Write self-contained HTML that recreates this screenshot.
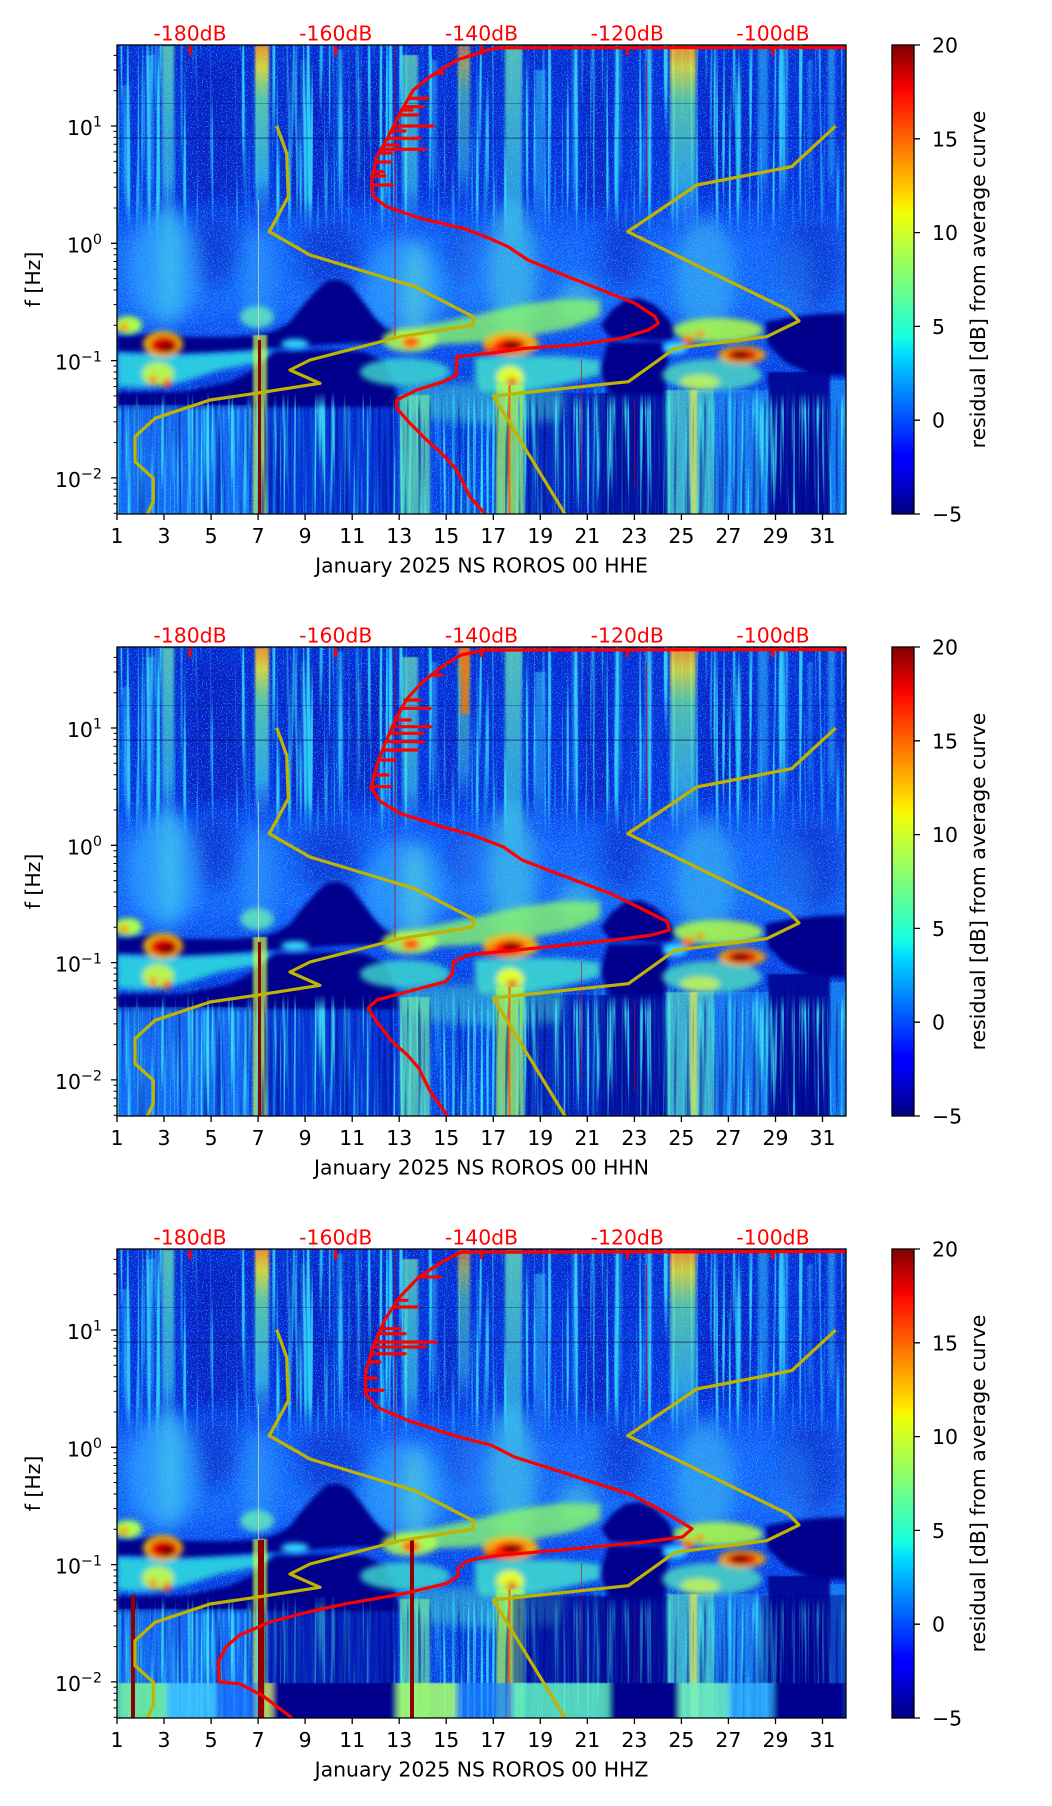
<!DOCTYPE html>
<html><head><meta charset="utf-8">
<style>
html,body{margin:0;padding:0;background:#fff;}
svg{display:block;}
text{font-family:"DejaVu Sans","Liberation Sans",sans-serif;font-size:20.4px;fill:#000;}
.rd{fill:#ff0000;}
</style></head><body>
<svg xmlns="http://www.w3.org/2000/svg" xmlns:xlink="http://www.w3.org/1999/xlink" width="1052" height="1806" viewBox="0 0 1052 1806">
<defs>
<clipPath id="cp" clipPathUnits="userSpaceOnUse"><rect x="117" y="45" width="729" height="469"/></clipPath>
<clipPath id="cp2" clipPathUnits="userSpaceOnUse"><rect x="117" y="647" width="729" height="469"/></clipPath>
<clipPath id="cp3" clipPathUnits="userSpaceOnUse"><rect x="117" y="1249" width="729" height="469"/></clipPath>

<linearGradient id="bg" gradientUnits="userSpaceOnUse" x1="0" y1="45" x2="0" y2="514">
 <stop offset="0" stop-color="#0a2bd6"/>
 <stop offset="0.32" stop-color="#0a34e2"/>
 <stop offset="0.37" stop-color="#1252f6"/>
 <stop offset="0.42" stop-color="#1a68ff"/>
 <stop offset="0.55" stop-color="#1a6cff"/>
 <stop offset="0.60" stop-color="#1458f8"/>
 <stop offset="0.72" stop-color="#0a3ee6"/>
 <stop offset="1" stop-color="#0a46ee"/>
</linearGradient>
<linearGradient id="sgc" x1="0" y1="0" x2="0" y2="1">
 <stop offset="0" stop-color="#38d0f8" stop-opacity=".85"/>
 <stop offset="0.75" stop-color="#30c0ff" stop-opacity=".75"/>
 <stop offset="1" stop-color="#30a0ff" stop-opacity="0"/>
</linearGradient>
<linearGradient id="sgg" x1="0" y1="0" x2="0" y2="1">
 <stop offset="0" stop-color="#70f0b0" stop-opacity=".9"/>
 <stop offset="0.2" stop-color="#60f0c0" stop-opacity=".85"/>
 <stop offset="0.75" stop-color="#40d8e8" stop-opacity=".75"/>
 <stop offset="1" stop-color="#40c0ff" stop-opacity="0"/>
</linearGradient>
<linearGradient id="sgy" x1="0" y1="0" x2="0" y2="1">
 <stop offset="0" stop-color="#ffa020" stop-opacity="1"/>
 <stop offset="0.12" stop-color="#f0f030" stop-opacity=".95"/>
 <stop offset="0.3" stop-color="#70f0a0" stop-opacity=".85"/>
 <stop offset="0.75" stop-color="#40d8e8" stop-opacity=".75"/>
 <stop offset="1" stop-color="#40c0ff" stop-opacity="0"/>
</linearGradient>
<linearGradient id="jet" x1="0" y1="0" x2="0" y2="1">
 <stop offset="0" stop-color="#800000"/>
 <stop offset="0.09" stop-color="#f50000"/>
 <stop offset="0.11" stop-color="#ff0f00"/>
 <stop offset="0.34" stop-color="#ffeb00"/>
 <stop offset="0.36" stop-color="#f0ff08"/>
 <stop offset="0.5" stop-color="#7dff7a"/>
 <stop offset="0.625" stop-color="#14ffe2"/>
 <stop offset="0.66" stop-color="#00dbff"/>
 <stop offset="0.875" stop-color="#0000ff"/>
 <stop offset="0.89" stop-color="#0000ff"/>
 <stop offset="1" stop-color="#000080"/>
</linearGradient>
<linearGradient id="gT" gradientUnits="userSpaceOnUse" x1="0" y1="45" x2="0" y2="514">
 <stop offset="0" stop-color="#fff"/><stop offset="0.33" stop-color="#fff"/>
 <stop offset="0.41" stop-color="#000"/><stop offset="0.72" stop-color="#000"/>
 <stop offset="0.76" stop-color="#fff"/><stop offset="1" stop-color="#fff"/>
</linearGradient>
<linearGradient id="gB" gradientUnits="userSpaceOnUse" x1="0" y1="45" x2="0" y2="514">
 <stop offset="0" stop-color="#000"/><stop offset="0.74" stop-color="#000"/>
 <stop offset="0.78" stop-color="#fff"/><stop offset="1" stop-color="#fff"/>
</linearGradient>
<mask id="mT" maskUnits="userSpaceOnUse" x="117" y="45" width="729" height="469"><rect x="117" y="45" width="729" height="469" fill="url(#gT)"/></mask>
<mask id="mB" maskUnits="userSpaceOnUse" x="117" y="45" width="729" height="469"><rect x="117" y="45" width="729" height="469" fill="url(#gB)"/></mask>

<filter id="b2" x="-50%" y="-50%" width="200%" height="200%"><feGaussianBlur stdDeviation="2"/></filter>
<filter id="b3" x="-50%" y="-50%" width="200%" height="200%"><feGaussianBlur stdDeviation="3"/></filter>
<filter id="b5" x="-50%" y="-50%" width="200%" height="200%"><feGaussianBlur stdDeviation="5"/></filter>
<filter id="b8" x="-50%" y="-50%" width="200%" height="200%"><feGaussianBlur stdDeviation="8"/></filter>
<filter id="b10" x="-50%" y="-50%" width="200%" height="200%"><feGaussianBlur stdDeviation="10"/></filter>
<filter id="bx" x="-20%" y="-5%" width="140%" height="110%"><feGaussianBlur stdDeviation="1.2 0.5"/></filter>
<filter id="bh" x="-10%" y="-10%" width="120%" height="120%"><feGaussianBlur stdDeviation="3 0.5"/></filter>

<filter id="fv" filterUnits="userSpaceOnUse" x="117" y="45" width="729" height="469" color-interpolation-filters="sRGB">
 <feTurbulence type="fractalNoise" baseFrequency="0.25 0.004" numOctaves="2" seed="4"/>
 <feColorMatrix type="matrix" values="0 0 0 0 0.2  0 0 0 0 0.85  0 0 0 0 1  6 0 0 0 -3.3"/>
</filter>
<filter id="fv2" filterUnits="userSpaceOnUse" x="117" y="45" width="729" height="469" color-interpolation-filters="sRGB">
 <feTurbulence type="fractalNoise" baseFrequency="0.3 0.006" numOctaves="2" seed="12"/>
 <feColorMatrix type="matrix" values="0 0 0 0 0.25  0 0 0 0 0.9  0 0 0 0 0.95  6 0 0 0 -3.3"/>
</filter>
<filter id="fdk" filterUnits="userSpaceOnUse" x="117" y="45" width="729" height="469" color-interpolation-filters="sRGB">
 <feTurbulence type="fractalNoise" baseFrequency="0.28 0.005" numOctaves="2" seed="21"/>
 <feColorMatrix type="matrix" values="0 0 0 0 0  0 0 0 0 0.02  0 0 0 0 0.55  -6 0 0 0 2.7"/>
</filter>
<filter id="fsp" filterUnits="userSpaceOnUse" x="117" y="45" width="729" height="469" color-interpolation-filters="sRGB">
 <feTurbulence type="fractalNoise" baseFrequency="0.8" numOctaves="1" seed="9"/>
 <feColorMatrix type="matrix" values="0 0 0 0 0.1  0 0 0 0 0.8  0 0 0 0 1  7 0 0 0 -4.0"/>
</filter>
<filter id="fsd" filterUnits="userSpaceOnUse" x="117" y="45" width="729" height="469" color-interpolation-filters="sRGB">
 <feTurbulence type="fractalNoise" baseFrequency="0.9" numOctaves="1" seed="31"/>
 <feColorMatrix type="matrix" values="0 0 0 0 0  0 0 0 0 0.05  0 0 0 0 0.6  -7 0 0 0 3.0"/>
</filter>

<g id="spec" clip-path="url(#cp)">
 <rect x="117" y="45" width="729" height="469" fill="url(#bg)"/>
 <g fill="#0818b8" opacity="0.55" filter="url(#b8)">
  <rect x="188" y="60" width="55" height="140"/>
  <rect x="285" y="60" width="45" height="150"/>
  <rect x="348" y="70" width="42" height="125"/>
  <rect x="440" y="110" width="15" height="90"/>
  <rect x="585" y="60" width="25" height="150"/>
  <rect x="705" y="70" width="45" height="120"/>
 </g>
 <g fill="#0a26c8" opacity="0.65" filter="url(#b10)">
  <ellipse cx="213" cy="248" rx="25" ry="38"/>
  <ellipse cx="330" cy="255" rx="32" ry="38"/>
  <ellipse cx="622" cy="250" rx="22" ry="40"/>
  <ellipse cx="812" cy="262" rx="32" ry="48"/>
  <ellipse cx="462" cy="255" rx="12" ry="30"/>
 </g>
 <rect x="117" y="45" width="729" height="469" filter="url(#fsd)" opacity="0.45"/>
 <rect x="117" y="45" width="729" height="469" filter="url(#fsp)" opacity="0.7"/>
 <g filter="url(#b8)">
  <ellipse cx="165" cy="268" rx="36" ry="58" fill="#38b8ff" opacity=".55"/>
  <ellipse cx="170" cy="262" rx="10" ry="60" fill="#50e0e0" opacity=".5"/>
  <ellipse cx="258" cy="272" rx="18" ry="48" fill="#30a8ff" opacity=".45"/>
  <ellipse cx="405" cy="288" rx="42" ry="50" fill="#38b8ff" opacity=".5"/>
  <ellipse cx="415" cy="292" rx="12" ry="50" fill="#60e0d0" opacity=".5"/>
  <ellipse cx="512" cy="272" rx="24" ry="70" fill="#50d8e0" opacity=".55"/>
  <ellipse cx="578" cy="300" rx="18" ry="22" fill="#50d0e0" opacity=".55"/>
  <ellipse cx="705" cy="278" rx="30" ry="60" fill="#40c8f0" opacity=".5"/>
  <ellipse cx="470" cy="268" rx="15" ry="40" fill="#30a0ff" opacity=".35"/>
  <ellipse cx="795" cy="280" rx="20" ry="40" fill="#30a0ff" opacity=".3"/>
 </g>
 <rect x="117" y="45" width="729" height="469" filter="url(#fv)" mask="url(#mT)" opacity=".9"/>
 <g filter="url(#bx)">
  <rect x="121" y="85" width="9" height="130" fill="url(#sgc)" opacity=".45"/>
  <rect x="146" y="55" width="8" height="160" fill="url(#sgc)" opacity=".6"/>
  <rect x="162" y="46" width="12" height="180" fill="url(#sgg)" opacity=".8"/>
  <rect x="255" y="46" width="14" height="175" fill="url(#sgy)" opacity=".9"/>
  <rect x="301" y="60" width="3" height="150" fill="url(#sgc)" opacity=".5"/>
  <rect x="337" y="50" width="6" height="160" fill="url(#sgc)" opacity=".5"/>
  <rect x="357" y="80" width="3" height="120" fill="url(#sgc)" opacity=".5"/>
  <rect x="402" y="55" width="16" height="175" fill="url(#sgg)" opacity=".75"/>
  <rect x="430" y="60" width="7" height="140" fill="url(#sgc)" opacity=".5"/>
  <rect x="458" y="46" width="12" height="160" fill="url(#sgy)" opacity=".6"/>
  <rect x="505" y="46" width="17" height="210" fill="url(#sgg)" opacity=".8"/>
  <rect x="535" y="70" width="10" height="160" fill="url(#sgc)" opacity=".6"/>
  <rect x="572" y="46" width="6" height="175" fill="url(#sgc)" opacity=".5"/>
  <rect x="615" y="46" width="7" height="155" fill="url(#sgc)" opacity=".5"/>
  <rect x="645" y="46" width="7" height="160" fill="url(#sgc)" opacity=".6"/>
  <rect x="670" y="46" width="26" height="185" fill="url(#sgy)" opacity=".85"/>
  <rect x="758" y="46" width="10" height="165" fill="url(#sgc)" opacity=".6"/>
  <rect x="782" y="46" width="6" height="165" fill="url(#sgc)" opacity=".5"/>
  <rect x="808" y="60" width="4" height="140" fill="url(#sgc)" opacity=".5"/>
  <rect x="828" y="46" width="7" height="160" fill="url(#sgc)" opacity=".6"/>
 </g>
 <rect x="117" y="137.5" width="729" height="1.3" fill="#000a60" opacity=".5"/>
 <rect x="117" y="103" width="729" height="1" fill="#000a60" opacity=".3"/>
 <g fill="#00048c" filter="url(#b2)">
  <polygon points="117,336 150,334 190,337 230,337 260,335 277,330 290,322 303,305 317,290 327,281 340,280 350,285 362,300 375,318 385,328 397,332 397,340 380,343 350,343 320,345 300,347 280,348 260,349 240,351 210,353 180,354 150,353 117,352"/>
  <polygon points="250,372 270,352 330,350 365,352 385,362 395,385 400,408 117,408 117,392 180,392 230,382"/>
  <polygon points="601,325 612,310 625,300 640,298 655,305 668,318 676,333 670,340 650,340 630,338 610,338"/>
  <polygon points="608,342 662,342 668,360 665,395 610,395 600,370"/>
  <polygon points="765,322 790,317 820,314 846,313 846,376 810,374 785,362 768,345"/>
 </g>
 <g fill="#00048c" filter="url(#bx)">
  <rect x="768" y="372" width="62" height="142" opacity=".85"/>
  <rect x="525" y="393" width="75" height="121" opacity=".45"/>
  <rect x="600" y="393" width="66" height="121" opacity=".75"/>
  <rect x="262" y="408" width="136" height="106" fill="#0028c8" opacity=".55"/>
 </g>
 <g filter="url(#b3)">
  <ellipse cx="128" cy="325" rx="14" ry="9" fill="#a8ff50"/>
  <ellipse cx="124" cy="327" rx="5" ry="4" fill="#ff8c00"/>
  <ellipse cx="257" cy="317" rx="17" ry="11" fill="#60e8c0" opacity=".85"/>
  <polygon points="117,353 180,355 240,352 275,350 260,362 220,370 180,383 140,388 117,386" fill="#30e0e0" opacity=".85"/>
  <ellipse cx="158" cy="374" rx="16" ry="12" fill="#d8ff30" opacity=".8"/>
  <ellipse cx="153" cy="380" rx="4" ry="4" fill="#ff7000"/>
  <ellipse cx="167" cy="383" rx="4" ry="5" fill="#ff5000"/>
  <ellipse cx="163" cy="344" rx="20" ry="13" fill="#ffc000" opacity=".9"/>
  <ellipse cx="164" cy="345" rx="14" ry="9" fill="#e00000"/>
  <ellipse cx="167" cy="347" rx="7" ry="5" fill="#800000"/>
  <ellipse cx="295" cy="344" rx="14" ry="5" fill="#30d8ff"/>
  <ellipse cx="405" cy="372" rx="45" ry="14" fill="#40e0d0" opacity=".8"/>
  <polygon points="395,332 440,322 480,314 520,305 560,299 600,300 600,316 570,328 520,338 470,343 420,345 400,342" fill="#90ff60" opacity=".75"/>
  <ellipse cx="410" cy="340" rx="28" ry="12" fill="#b0ff50" opacity=".85"/>
  <ellipse cx="411" cy="342" rx="9" ry="6" fill="#ff6000"/>
  <ellipse cx="511" cy="344" rx="28" ry="12" fill="#ffb000" opacity=".9"/>
  <ellipse cx="500" cy="350" rx="18" ry="4" fill="#ff3000"/>
  <ellipse cx="510" cy="345" rx="16" ry="7" fill="#ff1000"/>
  <ellipse cx="512" cy="345" rx="9" ry="5" fill="#900000"/>
  <polygon points="475,357 530,356 560,356 600,360 600,375 560,385 520,392 480,392 475,380" fill="#40e0d0" opacity=".85"/>
  <ellipse cx="510" cy="378" rx="14" ry="12" fill="#e0ff30"/>
  <ellipse cx="512" cy="383" rx="5" ry="6" fill="#ff6000"/>
  <ellipse cx="675" cy="348" rx="12" ry="6" fill="#40e0ff"/>
  <ellipse cx="712" cy="375" rx="50" ry="16" fill="#50e0c0" opacity=".8"/>
  <ellipse cx="700" cy="382" rx="20" ry="8" fill="#e0ff40" opacity=".7"/>
  <ellipse cx="718" cy="330" rx="45" ry="12" fill="#b0ff40" opacity=".85"/>
  <ellipse cx="688" cy="340" rx="6" ry="5" fill="#ff7000"/>
  <ellipse cx="700" cy="334" rx="4" ry="3" fill="#ff5000"/>
  <ellipse cx="742" cy="355" rx="24" ry="9" fill="#ffa000" opacity=".9"/>
  <ellipse cx="742" cy="355" rx="15" ry="6" fill="#e00000"/>
  <ellipse cx="740" cy="355" rx="8" ry="4" fill="#800000"/>
 </g>
 <g filter="url(#b5)">
  <polygon points="400,385 470,382 540,386 565,395 560,420 500,425 430,420 400,410" fill="#40d8d0" opacity=".5"/>
 </g>
 <g filter="url(#bx)">
  <rect x="117" y="405" width="133" height="109" fill="#2090ff" opacity=".45"/>
  <rect x="253" y="335" width="14" height="179" fill="#c8ff48" opacity=".7"/>
  <rect x="400" y="395" width="30" height="119" fill="#70f0a0" opacity=".65"/>
  <rect x="496" y="385" width="28" height="129" fill="#b0ff50" opacity=".7"/>
  <rect x="666" y="390" width="48" height="124" fill="#60f0c0" opacity=".6"/>
  <rect x="690" y="390" width="7" height="124" fill="#f0f040" opacity=".7"/>
  <rect x="715" y="390" width="53" height="124" fill="#30c0ff" opacity=".4"/>
  <rect x="830" y="380" width="16" height="134" fill="#20b0ff" opacity=".5"/>
 </g>
 <rect x="117" y="45" width="729" height="469" filter="url(#fv2)" mask="url(#mB)" opacity=".85"/>
 <rect x="117" y="45" width="729" height="469" filter="url(#fdk)" mask="url(#mB)" opacity=".5"/>
 <rect x="258" y="340" width="3" height="174" fill="#900000"/>
 <rect x="508.5" y="385" width="2" height="129" fill="#ff6000"/>
 <rect x="394.5" y="46" width="1" height="290" fill="#c00000" opacity=".7"/>
 <rect x="258" y="200" width="1" height="140" fill="#f0e0a0" opacity=".7"/>
 <rect x="581" y="360" width="1" height="120" fill="#e00000" opacity=".6"/>
 <rect x="634" y="400" width="1" height="90" fill="#e00000" opacity=".6"/>
 <rect x="646" y="60" width="1" height="140" fill="#e00000" opacity=".7"/>
</g>

<g id="yel" fill="none" stroke="#c0b400" stroke-width="3.2" stroke-linejoin="round">
 <polyline points="276.7,125.7 286.7,153.3 288.3,196.7 269.3,231.7 310,255 415,286.7 473.3,316.7 473.3,325 400,336.7 310,360 290,370 320,383.3 260,392.7 210,400 155,418.3 135,436.7 135,461.7 153.3,478.3 153.3,501.7 147.3,514 146,518"/>
 <polyline points="835.7,126 791.7,166.7 696.7,185 627.7,231.7 788.3,310 799,321 766.7,336.7 675,348.3 628.3,381.7 493.3,396 565,514 567,518"/>
</g>

<g id="ax">
 <rect x="892" y="45" width="22" height="469" fill="url(#jet)" stroke="#000" stroke-width="1.3"/>
 <path d="M190 46v9M335.75 46v9M481.5 46v9M627.25 46v9M773 46v9" stroke="#ff0000" stroke-width="3"/>
 <rect x="117" y="45" width="729" height="469" fill="none" stroke="#000" stroke-width="1.3"/>
 <path d="M117 514v6M164 514v6M211.1 514v6M258.1 514v6M305.1 514v6M352.2 514v6M399.2 514v6M446.2 514v6M493.3 514v6M540.3 514v6M587.3 514v6M634.4 514v6M681.4 514v6M728.4 514v6M775.5 514v6M822.5 514v6M117 126h-6M117 243.3h-6M117 360.6h-6M117 477.9h-6M914 45h6M914 138.8h6M914 232.6h6M914 326.4h6M914 420.2h6M914 514h6" stroke="#000" stroke-width="1.3"/>
 <path d="M117 513.2h-3.5M117 503.9h-3.5M117 496.1h-3.5M117 489.3h-3.5M117 483.3h-3.5M117 442.6h-3.5M117 421.9h-3.5M117 407.3h-3.5M117 395.9h-3.5M117 386.6h-3.5M117 378.8h-3.5M117 372h-3.5M117 366h-3.5M117 325.3h-3.5M117 304.6h-3.5M117 290h-3.5M117 278.6h-3.5M117 269.3h-3.5M117 261.5h-3.5M117 254.7h-3.5M117 248.7h-3.5M117 208h-3.5M117 187.3h-3.5M117 172.7h-3.5M117 161.3h-3.5M117 152h-3.5M117 144.2h-3.5M117 137.4h-3.5M117 131.4h-3.5M117 90.7h-3.5M117 70h-3.5M117 55.4h-3.5" stroke="#000" stroke-width="1"/>
</g>
</defs>

<!-- spectrograms -->
<use href="#spec" xlink:href="#spec"/>
<use href="#spec" xlink:href="#spec" transform="translate(0,602)"/>
<use href="#spec" xlink:href="#spec" transform="translate(0,1204)"/>

<!-- panel 2 specifics -->
<g clip-path="url(#cp2)">
 <rect x="461" y="648" width="8" height="66" fill="#ff7000" opacity=".75" filter="url(#bx)"/>
</g>
<!-- panel 3 specifics -->
<g clip-path="url(#cp3)">
 <g filter="url(#bx)">
  <rect x="513" y="1595" width="155" height="88" fill="#00048c" opacity=".45"/>
  <rect x="760" y="1595" width="86" height="88" fill="#00048c" opacity=".45"/>
  <rect x="270" y="1600" width="128" height="83" fill="#00048c" opacity=".4"/>
 </g>
 <g filter="url(#bh)">
  <rect x="117" y="1683" width="50" height="35" fill="#70f0a0" opacity=".9"/>
  <rect x="167" y="1683" width="50" height="35" fill="#40c8ff" opacity=".85"/>
  <rect x="217" y="1683" width="40" height="35" fill="#2070ff" opacity=".7"/>
  <rect x="264" y="1683" width="8" height="35" fill="#e0f040" opacity=".8"/>
  <rect x="272" y="1683" width="125" height="35" fill="#00058c"/>
  <rect x="397" y="1683" width="60" height="35" fill="#a0f870" opacity=".9"/>
  <rect x="457" y="1683" width="56" height="35" fill="#2080ff" opacity=".7"/>
  <rect x="513" y="1683" width="96" height="35" fill="#60f0c0" opacity=".85"/>
  <rect x="609" y="1683" width="70" height="35" fill="#00058c"/>
  <rect x="679" y="1683" width="50" height="35" fill="#70f0c0" opacity=".85"/>
  <rect x="729" y="1683" width="44" height="35" fill="#30b0ff" opacity=".8"/>
  <rect x="773" y="1683" width="73" height="35" fill="#00068e"/>
 </g>
 <rect x="117" y="1249" width="729" height="469" filter="url(#fv2)" mask="url(#mB)" opacity=".5"/>
 <rect x="131" y="1595" width="4" height="123" fill="#900000"/>
 <rect x="258" y="1540" width="6" height="178" fill="#900000"/>
 <rect x="410" y="1540" width="4" height="178" fill="#900000"/>
</g>

<!-- yellow curves -->
<use href="#yel" xlink:href="#yel" clip-path="url(#cp)"/>
<use href="#yel" xlink:href="#yel" transform="translate(0,602)" clip-path="url(#cp)"/>
<use href="#yel" xlink:href="#yel" transform="translate(0,1204)" clip-path="url(#cp)"/>

<!-- red curves -->
<g fill="none" stroke="#ff0000" stroke-width="3.2" stroke-linejoin="round" stroke-linecap="round">
 <g clip-path="url(#cp)">
  <polyline points="846,47.5 500,47.8 490,49.3 456.7,60 430,76.7 413.3,90 400,113.3 388.3,136.7 376.7,156.7 371.7,180 373.3,196.7 386.7,206.7 420,218.3 463.3,228.3 491.7,239.3 508,246.7 528,260 568,276.7 601.7,290 635,303.3 655,316.7 658.3,323.3 648.3,330 621.7,338.3 575,345 525,348.3 490,353.3 456.7,356.7 456.7,375 443.3,381.7 416.7,390 396.7,400 396.7,408.3 410,423.3 426.7,440 443.3,455 456.7,470 470,496.7 483.3,512 485,518"/>
  <path d="M435 73.3H443M409 98.3H428M404 106.7H423M399 115H418M394 126H433M388 138.3H420M381 149.3H425M373 171.7H383M372 185H392M392 131H405M384 145H398M376 162H390M372 176H385M401 110H412M379 153H391"/>
 </g>
 <g clip-path="url(#cp2)">
  <polyline points="846,649.5 483.8,650 461,655 441.8,666.7 422.7,681.7 407.4,698.3 396,718.3 384.5,745 376.8,765 371.1,788.3 380.7,801.7 399.8,813.3 441.8,826.7 472.4,835 503,846.7 522,860 552.6,871.7 583.2,883.3 609.9,893.3 644.3,910 667.3,921.7 669.2,930 652,935 613.8,940 556.4,946 499.1,951.7 468.5,955 453.3,961.7 452.5,973.3 445.6,981.7 407.4,991.7 376.8,1000 368,1008.3 376.8,1021.7 392.1,1041.7 407.4,1055 418.9,1068.3 430.3,1091.7 445.6,1113.3 448,1120"/>
  <path d="M432 675H442M401 708.3H430M392 726.7H431M390 733.3H423M386 741.7H423M383 750H417M371 786.7H390M395 720H410M380 760H395M374 775H388M405 700H420"/>
 </g>
 <g clip-path="url(#cp3)">
  <polyline points="846,1251.5 461,1252.2 441.8,1262 418.9,1277 399.8,1297 384.5,1320.3 373,1347 365.4,1373.7 365.4,1393.7 376.8,1407 407.4,1420.3 453.3,1435.3 491.5,1445.3 514.4,1457 556.4,1470.3 602.3,1485.3 632.9,1495.3 667.3,1513.7 692.1,1528.7 682.5,1537 644.3,1542 575.5,1548.7 499.1,1555.3 468.5,1560.3 459,1567 457.1,1577 445.6,1583.7 403.6,1593.7 346.3,1603.7 308.1,1612 269.9,1622 239.3,1635.3 225.9,1647 218.3,1662 219.4,1682 239.3,1683.7 262.2,1695.3 290.9,1717 294,1722"/>
  <path d="M419 1277H440M398 1300.3H407M394 1307H417M381 1328.7H400M378 1333.7H405M375 1342H436M373 1347H425M371 1353.7H405M365 1390.3H383M369 1362H380M366 1378H376"/>
 </g>
</g>

<!-- axes decorations -->
<use href="#ax" xlink:href="#ax"/>
<use href="#ax" xlink:href="#ax" transform="translate(0,602)"/>
<use href="#ax" xlink:href="#ax" transform="translate(0,1204)"/>

<!-- ===== Panel 1 text ===== -->
<g text-anchor="middle">
 <text class="rd" x="190" y="40.7">-180dB</text>
 <text class="rd" x="335.75" y="40.7">-160dB</text>
 <text class="rd" x="481.5" y="40.7">-140dB</text>
 <text class="rd" x="627.25" y="40.7">-120dB</text>
 <text class="rd" x="773" y="40.7">-100dB</text>
 <text x="117" y="543">1</text><text x="164" y="543">3</text><text x="211.1" y="543">5</text><text x="258.1" y="543">7</text>
 <text x="305.1" y="543">9</text><text x="352.2" y="543">11</text><text x="399.2" y="543">13</text><text x="446.2" y="543">15</text>
 <text x="493.3" y="543">17</text><text x="540.3" y="543">19</text><text x="587.3" y="543">21</text><text x="634.4" y="543">23</text>
 <text x="681.4" y="543">25</text><text x="728.4" y="543">27</text><text x="775.5" y="543">29</text><text x="822.5" y="543">31</text>
 <text x="481.5" y="572.7">January 2025 NS ROROS 00 HHE</text>
 <text transform="translate(40,279.5) rotate(-90)">f [Hz]</text>
 <text transform="translate(985,279.5) rotate(-90)">residual [dB] from average curve</text>
</g>
<g text-anchor="end">
 <text x="102" y="135">10<tspan dy="-8.3" font-size="14.3">1</tspan></text>
 <text x="102" y="252.3">10<tspan dy="-8.3" font-size="14.3">0</tspan></text>
 <text x="102" y="369.6">10<tspan dy="-8.3" font-size="14.3">−1</tspan></text>
 <text x="102" y="486.9">10<tspan dy="-8.3" font-size="14.3">−2</tspan></text>
</g>
<g>
 <text x="932" y="52.5">20</text>
 <text x="932" y="146.3">15</text>
 <text x="932" y="240.1">10</text>
 <text x="932" y="333.9">5</text>
 <text x="932" y="427.7">0</text>
 <text x="932" y="521.5">−5</text>
</g>

<!-- ===== Panel 2 text ===== -->
<g text-anchor="middle">
 <text class="rd" x="190" y="642.7">-180dB</text>
 <text class="rd" x="335.75" y="642.7">-160dB</text>
 <text class="rd" x="481.5" y="642.7">-140dB</text>
 <text class="rd" x="627.25" y="642.7">-120dB</text>
 <text class="rd" x="773" y="642.7">-100dB</text>
 <text x="117" y="1145">1</text><text x="164" y="1145">3</text><text x="211.1" y="1145">5</text><text x="258.1" y="1145">7</text>
 <text x="305.1" y="1145">9</text><text x="352.2" y="1145">11</text><text x="399.2" y="1145">13</text><text x="446.2" y="1145">15</text>
 <text x="493.3" y="1145">17</text><text x="540.3" y="1145">19</text><text x="587.3" y="1145">21</text><text x="634.4" y="1145">23</text>
 <text x="681.4" y="1145">25</text><text x="728.4" y="1145">27</text><text x="775.5" y="1145">29</text><text x="822.5" y="1145">31</text>
 <text x="481.5" y="1174.7">January 2025 NS ROROS 00 HHN</text>
 <text transform="translate(40,881.5) rotate(-90)">f [Hz]</text>
 <text transform="translate(985,881.5) rotate(-90)">residual [dB] from average curve</text>
</g>
<g text-anchor="end">
 <text x="102" y="737">10<tspan dy="-8.3" font-size="14.3">1</tspan></text>
 <text x="102" y="854.3">10<tspan dy="-8.3" font-size="14.3">0</tspan></text>
 <text x="102" y="971.6">10<tspan dy="-8.3" font-size="14.3">−1</tspan></text>
 <text x="102" y="1088.9">10<tspan dy="-8.3" font-size="14.3">−2</tspan></text>
</g>
<g>
 <text x="932" y="654.5">20</text>
 <text x="932" y="748.3">15</text>
 <text x="932" y="842.1">10</text>
 <text x="932" y="935.9">5</text>
 <text x="932" y="1029.7">0</text>
 <text x="932" y="1123.5">−5</text>
</g>

<!-- ===== Panel 3 text ===== -->
<g text-anchor="middle">
 <text class="rd" x="190" y="1244.7">-180dB</text>
 <text class="rd" x="335.75" y="1244.7">-160dB</text>
 <text class="rd" x="481.5" y="1244.7">-140dB</text>
 <text class="rd" x="627.25" y="1244.7">-120dB</text>
 <text class="rd" x="773" y="1244.7">-100dB</text>
 <text x="117" y="1747">1</text><text x="164" y="1747">3</text><text x="211.1" y="1747">5</text><text x="258.1" y="1747">7</text>
 <text x="305.1" y="1747">9</text><text x="352.2" y="1747">11</text><text x="399.2" y="1747">13</text><text x="446.2" y="1747">15</text>
 <text x="493.3" y="1747">17</text><text x="540.3" y="1747">19</text><text x="587.3" y="1747">21</text><text x="634.4" y="1747">23</text>
 <text x="681.4" y="1747">25</text><text x="728.4" y="1747">27</text><text x="775.5" y="1747">29</text><text x="822.5" y="1747">31</text>
 <text x="481.5" y="1776.7">January 2025 NS ROROS 00 HHZ</text>
 <text transform="translate(40,1483.5) rotate(-90)">f [Hz]</text>
 <text transform="translate(985,1483.5) rotate(-90)">residual [dB] from average curve</text>
</g>
<g text-anchor="end">
 <text x="102" y="1339">10<tspan dy="-8.3" font-size="14.3">1</tspan></text>
 <text x="102" y="1456.3">10<tspan dy="-8.3" font-size="14.3">0</tspan></text>
 <text x="102" y="1573.6">10<tspan dy="-8.3" font-size="14.3">−1</tspan></text>
 <text x="102" y="1690.9">10<tspan dy="-8.3" font-size="14.3">−2</tspan></text>
</g>
<g>
 <text x="932" y="1256.5">20</text>
 <text x="932" y="1350.3">15</text>
 <text x="932" y="1444.1">10</text>
 <text x="932" y="1537.9">5</text>
 <text x="932" y="1631.7">0</text>
 <text x="932" y="1725.5">−5</text>
</g>
</svg>
</body></html>
